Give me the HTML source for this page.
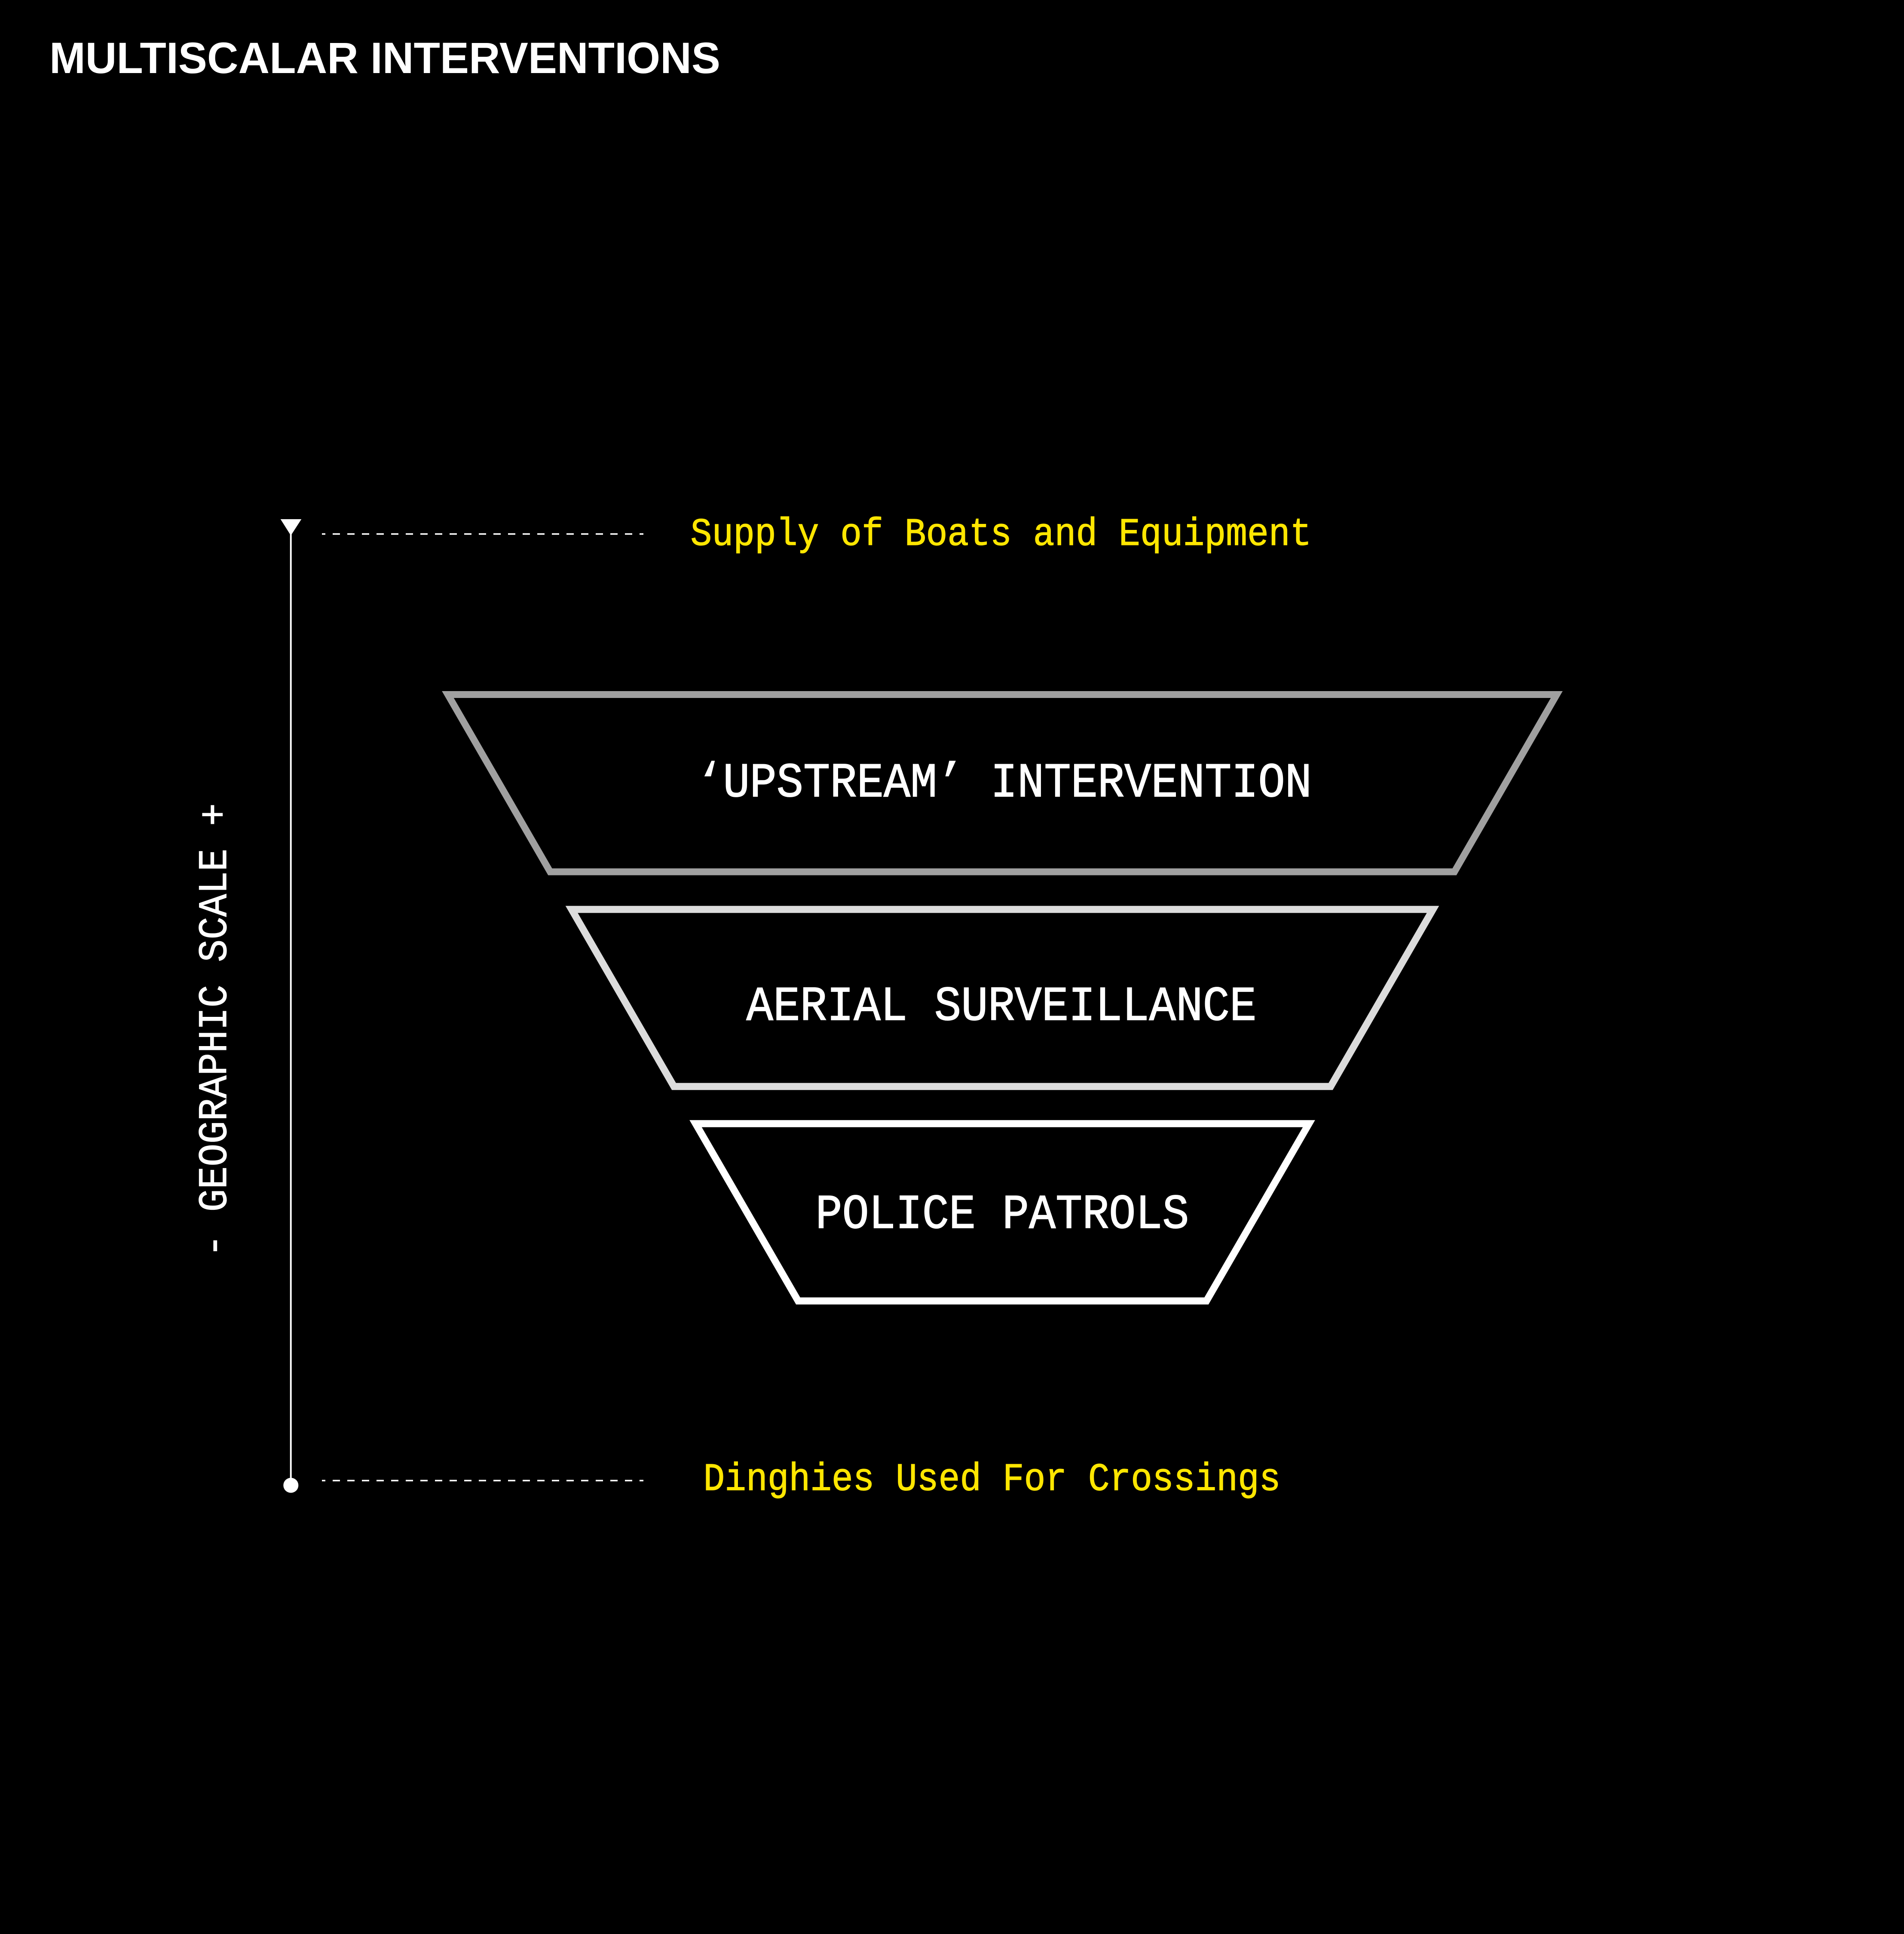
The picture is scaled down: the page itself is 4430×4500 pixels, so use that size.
<!DOCTYPE html>
<html>
<head>
<meta charset="utf-8">
<style>
  html, body { margin:0; padding:0; background:#000; }
  body { width:4430px; height:4500px; overflow:hidden; }
  svg { display:block; }
</style>
</head>
<body>
<svg width="4430" height="4500" viewBox="0 0 4430 4500" xmlns="http://www.w3.org/2000/svg">
  <rect x="0" y="0" width="4430" height="4500" fill="#000"/>

  <!-- Title -->
  <text x="115" y="170" font-family="'Liberation Sans', sans-serif" font-weight="bold" font-size="102" fill="#fff" textLength="1561" lengthAdjust="spacingAndGlyphs">MULTISCALAR INTERVENTIONS</text>

  <!-- Vertical scale line -->
  <line x1="676.7" y1="1210" x2="676.7" y2="3456" stroke="#fff" stroke-width="4"/>
  <polygon points="652.7,1208 701.3,1208 676.7,1246" fill="#fff"/>
  <circle cx="676.8" cy="3456" r="17.5" fill="#fff"/>

  <!-- Dashed leaders -->
  <line x1="749" y1="1242.5" x2="1497" y2="1242.5" stroke="#fff" stroke-width="3.5" stroke-dasharray="17 17" stroke-dashoffset="9"/>
  <line x1="749" y1="3445" x2="1497" y2="3445" stroke="#fff" stroke-width="3.5" stroke-dasharray="17 17" stroke-dashoffset="9"/>

  <!-- Yellow labels -->
  <g transform="translate(2329,1268) scale(1,1.08)">
    <text x="0" y="0" text-anchor="middle" font-family="'Liberation Mono', monospace" font-size="84" fill="#ffe600" stroke="#ffe600" stroke-width="1.2" textLength="1445" lengthAdjust="spacingAndGlyphs">Supply of Boats and Equipment</text>
  </g>
  <g transform="translate(2308,3467) scale(1,1.08)">
    <text x="0" y="0" text-anchor="middle" font-family="'Liberation Mono', monospace" font-size="84" fill="#ffe600" stroke="#ffe600" stroke-width="1.2" textLength="1343" lengthAdjust="spacingAndGlyphs">Dinghies Used For Crossings</text>
  </g>

  <!-- Vertical label -->
  <g transform="translate(526,2397) rotate(-90) scale(1,1.08)">
    <text x="0" y="0" text-anchor="middle" font-family="'Liberation Mono', monospace" font-size="88" fill="#fff" stroke="#fff" stroke-width="1.2">- GEOGRAPHIC SCALE +</text>
  </g>

  <!-- Trapezoids -->
  <polygon points="1042,1616 3622,1616 3384,2028.5 1280,2028.5" fill="none" stroke="#a0a0a0" stroke-width="16" stroke-linejoin="miter"/>
  <polygon points="1330,2116 3334,2116 3096,2528 1568,2528" fill="none" stroke="#dcdcdc" stroke-width="16.5" stroke-linejoin="miter"/>
  <polygon points="1618.5,2614.5 3045.5,2614.5 2807,3027 1857,3027" fill="none" stroke="#ffffff" stroke-width="16.5" stroke-linejoin="miter"/>

  <!-- Trapezoid labels -->
  <g transform="translate(2336,1853) scale(1,1.08)">
    <text x="0" y="0" text-anchor="middle" font-family="'Liberation Mono', monospace" font-size="105" fill="#fff" stroke="#fff" stroke-width="1.6" textLength="1432" lengthAdjust="spacingAndGlyphs">‘UPSTREAM’ INTERVENTION</text>
  </g>
  <g transform="translate(2330,2373) scale(1,1.08)">
    <text x="0" y="0" text-anchor="middle" font-family="'Liberation Mono', monospace" font-size="105" fill="#fff" stroke="#fff" stroke-width="1.6" textLength="1187" lengthAdjust="spacingAndGlyphs">AERIAL SURVEILLANCE</text>
  </g>
  <g transform="translate(2332,2857) scale(1,1.08)">
    <text x="0" y="0" text-anchor="middle" font-family="'Liberation Mono', monospace" font-size="105" fill="#fff" stroke="#fff" stroke-width="1.6" textLength="869" lengthAdjust="spacingAndGlyphs">POLICE PATROLS</text>
  </g>
</svg>
</body>
</html>
